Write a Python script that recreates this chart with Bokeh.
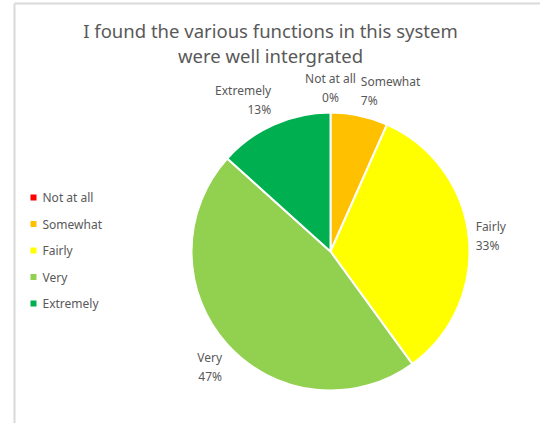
import numpy as np
from bokeh.plotting import figure
from bokeh.models import Range1d
from bokeh.core.properties import value
from bokeh.embed import file_html
from bokeh.resources import INLINE

# ---- data ----
title_lines = ["I found the various functions in this system", "were well intergrated"]
categories = ["Not at all", "Somewhat", "Fairly", "Very", "Extremely"]
counts = [0, 1, 5, 7, 2]
colors = ["#FF0000", "#FFC000", "#FFFF00", "#92D050", "#00B050"]

W, H = 540, 423
FONT = "Noto Sans"
TXT = "#595959"

def Y(py):
    return H - py

p = figure(width=W, height=H, x_range=Range1d(0, W), y_range=Range1d(0, H),
           x_axis_location=None, y_axis_location=None, min_border=0,
           toolbar_location=None, output_backend="svg",
           outline_line_color=None, background_fill_color="white",
           border_fill_color="white")
p.xgrid.visible = False
p.ygrid.visible = False

# chart border (Excel chart area)
p.segment(x0=[14, 14], y0=[Y(3), Y(3)], x1=[14, W], y1=[Y(H), Y(3)],
          line_color="#D9D9D9", line_width=2)

# title
p.text(x=[270, 270], y=[Y(30), Y(55)], text=title_lines,
       text_font=value(FONT), text_font_size="18.5px", text_color=TXT,
       text_align="center", text_baseline="middle")

# pie
cx, cy, r = 330, Y(251), 139
vals = np.array(counts, dtype=float)
frac = vals / vals.sum()
cum = np.concatenate([[0], np.cumsum(frac)])
start = np.pi / 2 - 2 * np.pi * cum[:-1]
end = np.pi / 2 - 2 * np.pi * cum[1:]
nz = vals > 0
p.wedge(x=cx, y=cy, radius=r,
        start_angle=start[nz], end_angle=end[nz], direction="clock",
        fill_color=[c for c, k in zip(colors, nz) if k],
        line_color="white", line_width=2)

# data labels
mid = 2 * np.pi * (cum[:-1] + cum[1:]) / 2  # clockwise from top
for i, cat in enumerate(categories):
    s, c = np.sin(mid[i]), np.cos(mid[i])
    lx = cx + 1.05 * r * s
    ly = cy + 1.05 * r * c
    align = "left" if s > 0.15 else ("right" if s < -0.15 else "center")
    base = "bottom" if c > 0.3 else ("top" if c < -0.3 else "middle")
    pct = f"{round(frac[i] * 100):.0f}%"
    p.text(x=[lx], y=[ly], text=[f"{cat}\n{pct}"],
           text_font=value(FONT), text_font_size="12px", text_color=TXT,
           text_align=align, text_baseline=base, text_line_height=1.1)

# legend
ly0, lstep = 197, 26.5
for i, cat in enumerate(categories):
    yy = Y(ly0 + i * lstep)
    p.scatter(x=[33], y=[yy], marker="square", size=6,
              fill_color=colors[i], line_color=None)
    p.text(x=[42], y=[yy], text=[cat], text_font=value(FONT),
           text_font_size="12px", text_color=TXT,
           text_align="left", text_baseline="middle")

open("out.html", "w").write(file_html(p, INLINE))
